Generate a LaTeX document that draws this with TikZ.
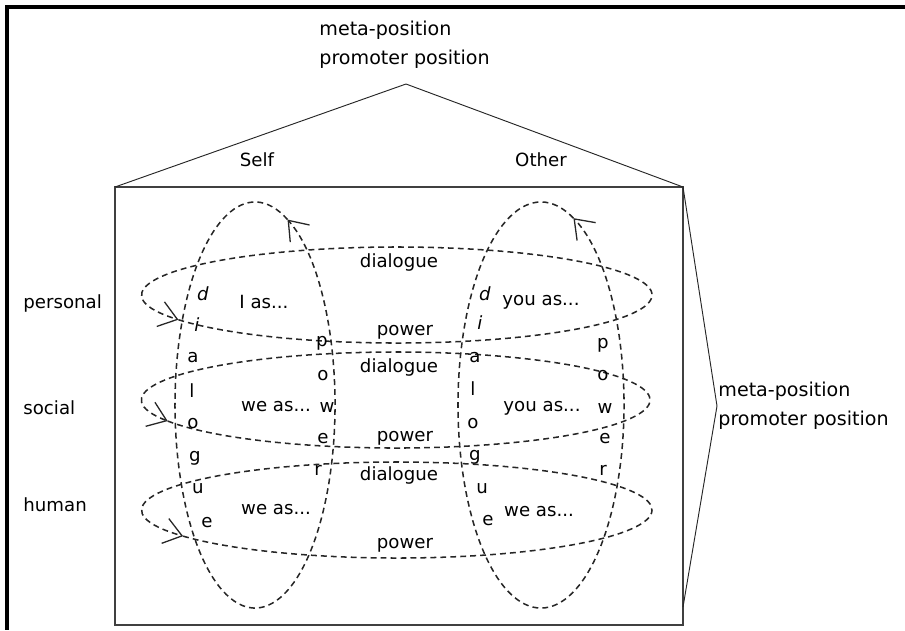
\documentclass[tikz,border=0pt]{standalone}
\usepackage{fontspec}
\setmainfont{DejaVu Sans}
\usetikzlibrary{positioning,arrows.meta}

\begin{document}
\begin{tikzpicture}[
  x=0.03cm, y=-0.03cm,
  font=\fontsize{15.5}{22}\selectfont,
  word/.style={inner sep=1pt},
  meta/.style={word, anchor=west, align=left, font=\fontsize{16.3}{24.5}\selectfont},
  rowlbl/.style={word, anchor=west},
  letter/.style={inner sep=0pt, anchor=base},
  house/.style={draw=black!75, line width=1.2pt},
  roof/.style={draw=black!85, line width=0.8pt},
  orbit/.style={draw=black!85, line width=1.3pt, dash pattern=on 5pt off 3.5pt,
    -{Straight Barb[length=15pt, width=22pt, line width=1.1pt]}}]
  \useasboundingbox (0,0) rectangle (905,630);
  \draw[line width=2.6pt] (5,7) -- (905,7);
  \draw[line width=2.6pt] (7,7) -- (7,630);

  \coordinate (boxNW) at (115,187);
  \coordinate (boxNE) at (683,187);
  \coordinate (boxSE) at (683,625);
  \coordinate (apex) at (406,84);
  \coordinate (brk) at (717,406);
  \coordinate (brkEnd) at (683,607);
  \draw[house] (boxNW) rectangle (boxSE);
  \draw[roof] (boxNW) -- (apex) -- (boxNE);
  \draw[roof] (boxNE) -- (brk) -- (brkEnd);

  \node[meta] (metaTop) at (318,45) {meta-position\\promoter position};
  \node[meta] (metaRight) at (717,406) {meta-position\\promoter position};
  \node[word] (self) at (257,160) {Self};
  \node[word] (other) at (541,160) {Other};
  \node[rowlbl] (personal) at (22,303) {personal};
  \node[rowlbl] (social) at (22,408) {social};
  \node[rowlbl] (human) at (22,505) {human};

  \coordinate (hPers) at (397,295);
  \coordinate (hSoc) at (396,400);
  \coordinate (hHum) at (397,510);
  \coordinate (vSelf) at (255,405);
  \coordinate (vOther) at (541,405);
  \draw[orbit] (hPers) ++(149:255 and 48) arc[start angle=509, end angle=149, x radius=255, y radius=48];
  \draw[orbit] (hSoc) ++(154:254 and 48) arc[start angle=514, end angle=154, x radius=254, y radius=48];
  \draw[orbit] (hHum) ++(147:255 and 48) arc[start angle=507, end angle=147, x radius=255, y radius=48];
  \draw[orbit] (vSelf) ++(-66:80 and 203) arc[start angle=294, end angle=-66, x radius=80, y radius=203];
  \draw[orbit] (vOther) ++(-67:83 and 203) arc[start angle=293, end angle=-67, x radius=83, y radius=203];

  \node[word] (dlg1) at (399,262) {dialogue};
  \node[word] (pow1) at (405,332) {power};
  \node[word] (dlg2) at (399,367) {dialogue};
  \node[word] (pow2) at (405,438) {power};
  \node[word] (dlg3) at (399,475) {dialogue};
  \node[word] (pow3) at (405,545) {power};
  \node[word] (iAs) at (264,302) {I as...};
  \node[word] (youAs1) at (541,302) {you as...};
  \node[word] (weAs1) at (276,407) {we as...};
  \node[word] (youAs2) at (542,408) {you as...};
  \node[word] (weAs2) at (276,510) {we as...};
  \node[word] (weAs3) at (539,512) {we as...};

  \foreach \ch/\x/\y [count=\k] in {{\itshape d}/203/300, {\itshape i}/197/331, a/193/362, l/192/397,
      o/193/428, g/195/461, u/198/493, e/207/527}
    \node[letter] (dlgSelf\k) at (\x,\y) {\ch};
  \foreach \ch/\x/\y [count=\k] in {{\itshape d}/485/300, {\itshape i}/480/329, a/475/362, l/473/395,
      o/473/428, g/475/460, u/482/493, e/488/525}
    \node[letter] (dlgOther\k) at (\x,\y) {\ch};
  \foreach \ch/\x/\y [count=\k] in {p/322/346, o/323/380, w/327/412, e/323/443, r/318/475}
    \node[letter] (powSelf\k) at (\x,\y) {\ch};
  \foreach \ch/\x/\y [count=\k] in {p/603/348, o/603/380, w/605/413, e/605/443, r/603/475}
    \node[letter] (powOther\k) at (\x,\y) {\ch};
\end{tikzpicture}
\end{document}
